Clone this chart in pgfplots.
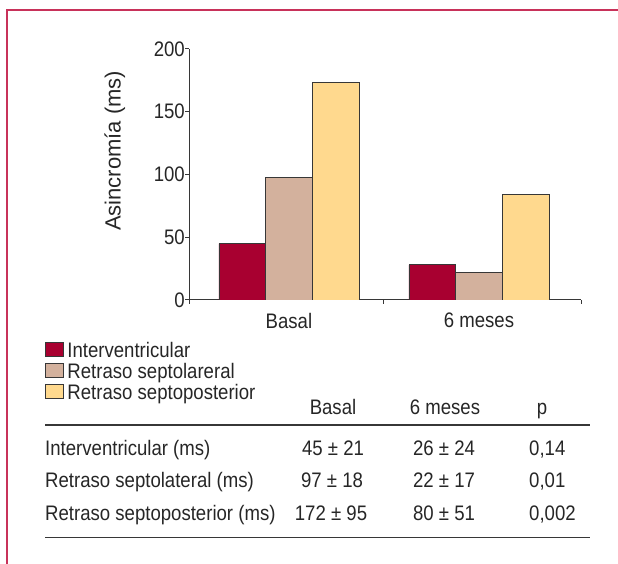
\documentclass[border=0pt]{standalone}
\usepackage{pgfplots}
\pgfplotsset{compat=1.18}
\usepackage{fontspec}
\setmainfont{Liberation Sans}[FakeStretch=0.885]
\newfontfamily\labelfont{Liberation Sans}
\definecolor{frame}{RGB}{200,50,90}
\definecolor{cInter}{RGB}{168,0,48}
\definecolor{cLat}{RGB}{211,177,157}
\definecolor{cPost}{RGB}{255,217,142}
\definecolor{edge}{RGB}{55,55,55}
\newcommand{\fs}{\fontsize{21bp}{25bp}\selectfont}
\begin{document}
\begin{tikzpicture}
\path[use as bounding box] (0,0) rectangle (618bp,564bp);
\draw[frame, line width=1.5bp] (7bp,0bp) -- (7bp,554bp) -- (620bp,554bp);
\begin{axis}[
  at={(189bp,264bp)}, anchor=south west,
  scale only axis, width=392bp, height=251bp,
  xmin=-0.526, xmax=1.537, ymin=0, ymax=200,
  axis lines*=left,
  axis line style={edge, line width=1bp},
  ybar=0pt, bar width=46.67bp,
  tick align=outside,
  major tick length=4bp,
  tick style={edge, line width=1bp},
  ytick={0,50,100,150,200},
  xtick={-0.526,0.5,1.537}, xticklabels={},
  extra x ticks={0,1}, extra x tick labels={Basal,6 meses},
  extra x tick style={major tick length=0pt},
  /pgf/number format/assume math mode=true,
  tick label style={font=\fs, text=black!85},
  yticklabel style={inner sep=0pt, anchor=east},
  xticklabel style={inner sep=0pt, anchor=north, yshift=-13bp},
  ylabel={Asincromía (ms)},
  ylabel style={at={(axis description cs:-0.189,0.594)}, anchor=center, font=\labelfont\fontsize{22bp}{26bp}\selectfont, text=black!85},
  legend style={at={(axis description cs:-0.367,-0.161)}, anchor=north west, draw=none, fill=none, inner sep=0pt, outer sep=0pt, row sep=0.5bp, column sep=1.5bp, font=\fs, text=black!85, cells={anchor=base west, inner sep=0pt, text height=15bp, text depth=6bp}},
  legend cell align=left,
  legend image code/.code={\draw[#1, line width=0.8bp] (0bp,-6bp) rectangle (18bp,8bp);},
]
\addplot[draw=edge, fill=cInter, line width=0.8bp] coordinates {(0,45) (1,28)};
\addplot[draw=edge, fill=cLat, line width=0.8bp] coordinates {(0,98) (1,22)};
\addplot[draw=edge, fill=cPost, line width=0.8bp] coordinates {(0,173) (1,84)};
\legend{Interventricular, Retraso septolareral, Retraso septoposterior}
\end{axis}
\begin{scope}[every node/.style={inner sep=0pt, font=\fs, text=black!85}]
\draw[edge, line width=1.2bp] (45bp,139bp) -- (590bp,139bp);
\draw[edge, line width=1.2bp] (45bp,26.3bp) -- (590bp,26.3bp);
\node[anchor=base] at (333bp,149.8bp) {Basal};
\node[anchor=base] at (445bp,149.8bp) {6 meses};
\node[anchor=base] at (542bp,149.8bp) {p};
\node[anchor=base west] at (45bp,108.5bp) {Interventricular (ms)};
\node[anchor=base west] at (45bp,76.5bp) {Retraso septolateral (ms)};
\node[anchor=base west] at (45bp,43.8bp) {Retraso septoposterior (ms)};
\node[anchor=base] at (333bp,108.5bp) {45 ± 21};
\node[anchor=base] at (332bp,76.5bp) {97 ± 18};
\node[anchor=base] at (331bp,43.8bp) {172 ± 95};
\node[anchor=base] at (444bp,108.5bp) {26 ± 24};
\node[anchor=base] at (444bp,76.5bp) {22 ± 17};
\node[anchor=base] at (444bp,43.8bp) {80 ± 51};
\node[anchor=base west] at (529bp,108.5bp) {0,14};
\node[anchor=base west] at (529bp,76.5bp) {0,01};
\node[anchor=base west] at (529bp,43.8bp) {0,002};
\end{scope}
\end{tikzpicture}
\end{document}
